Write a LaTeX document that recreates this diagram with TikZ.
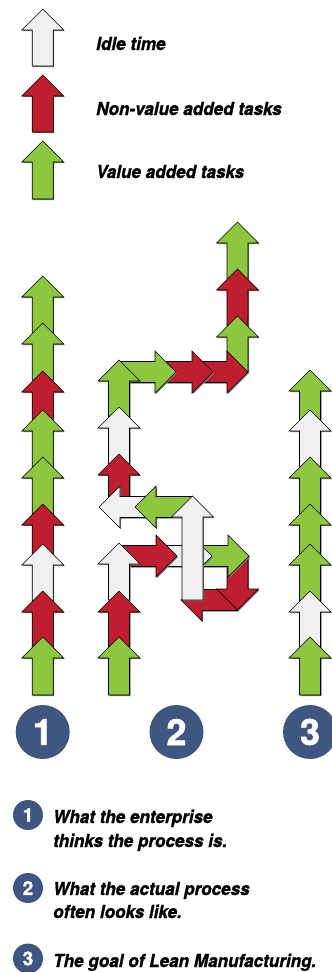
\documentclass[tikz,border=0pt]{standalone}
\usepackage{fontspec}
\newfontfamily\labfont{TeX Gyre Heros}[FakeStretch=0.95,FakeBold=1.2]
\newfontfamily\numfont{TeX Gyre Heros}[FakeBold=1.5]
\definecolor{vgreen}{RGB}{141,198,63}
\definecolor{nred}{RGB}{190,30,45}
\definecolor{idle}{RGB}{240,240,240}
\definecolor{cblue}{RGB}{62,86,128}
\definecolor{shadowc}{RGB}{120,120,120}
\newcommand\Arr[5]{%
  \fill[shadowc, shift={(#2+1,#3+1)}, rotate=#4] (0,0) -- (-21,21) -- (-21,10.5) -- (-#5,10.5) -- (-#5,-10.5) -- (-21,-10.5) -- (-21,-21) -- cycle;
  \filldraw[fill=#1, draw=black, line width=0.6pt, line join=miter, shift={(#2,#3)}, rotate=#4] (0,0) -- (-21,21) -- (-21,10.5) -- (-#5,10.5) -- (-#5,-10.5) -- (-21,-10.5) -- (-21,-21) -- cycle;
}
\tikzset{
  legtext/.style={anchor=base west, inner sep=0pt, font=\labfont\bfseries\itshape\fontsize{18}{24}\selectfont},
  bignum/.style={circle, fill=cblue, text=white, minimum size=54pt, inner sep=0pt, font=\numfont\bfseries\fontsize{36}{36}\selectfont},
  smallnum/.style={circle, fill=cblue, text=white, minimum size=30pt, inner sep=0pt, font=\numfont\bfseries\fontsize{19}{19}\selectfont}
}
\begin{document}
\begin{tikzpicture}[x=1pt,y=-1pt]
\useasboundingbox (0,0) rectangle (332,972);
% legend
\Arr{idle}{42.7}{9}{90}{57}
\Arr{nred}{42.7}{75}{90}{57}
\Arr{vgreen}{42.7}{141}{90}{58}
\node[legtext] (l1) at (96,50) {Idle time};
\node[legtext] (l2) at (96,115) {Non-value added tasks};
\node[legtext] (l3) at (96,178) {Value added tasks};
% column 1
\Arr{vgreen}{42.7}{276}{90}{57}
\Arr{vgreen}{42.7}{323}{90}{57}
\Arr{nred}{42.7}{371}{90}{57}
\Arr{vgreen}{42.7}{410}{90}{57}
\Arr{vgreen}{42.7}{457}{90}{57}
\Arr{nred}{42.7}{504}{90}{57}
\Arr{idle}{42.7}{544}{90}{57}
\Arr{nred}{42.7}{591}{90}{57}
\Arr{vgreen}{42.7}{637}{90}{58}
% column 3
\Arr{vgreen}{310}{370}{90}{57}
\Arr{idle}{310}{410}{90}{57}
\Arr{vgreen}{310}{457}{90}{57}
\Arr{vgreen}{310}{504}{90}{57}
\Arr{vgreen}{310}{544}{90}{57}
\Arr{idle}{310}{591}{90}{57}
\Arr{vgreen}{310}{637}{90}{58}
% column 2
\Arr{vgreen}{237.5}{222}{90}{57}
\Arr{nred}{237.5}{269}{90}{57}
\Arr{vgreen}{237.5}{316}{90}{56}
\Arr{nred}{248}{372}{0}{57}
\Arr{nred}{213}{372}{0}{57}
\Arr{vgreen}{176}{372}{0}{57}
\Arr{vgreen}{119}{360}{90}{57}
\Arr{idle}{119}{407}{90}{57}
\Arr{nred}{119}{454}{90}{57}
\Arr{idle}{99}{507}{180}{57}
\Arr{vgreen}{135}{507}{180}{57}
\Arr{nred}{181}{600}{180}{57}
\Arr{nred}{237.5}{610}{-90}{54}
\Arr{vgreen}{249}{556}{0}{57}
\Arr{idle}{212}{556}{0}{57}
\Arr{nred}{177}{556}{0}{57}
\Arr{idle}{119}{543}{90}{57}
\Arr{nred}{119}{591}{90}{57}
\Arr{vgreen}{119}{637}{90}{58}
\Arr{idle}{192.5}{496}{90}{104}
% big numbers
\node[bignum] (c1) at (42.7,732) {1};
\node[bignum] (c2) at (176.5,732) {2};
\node[bignum] (c3) at (310,732) {3};
% bottom legend
\node[smallnum] (s1) at (28,815) {1};
\node[legtext] (t1a) at (53,823) {What the enterprise};
\node[legtext] (t1b) at (53,847) {thinks the process is.};
\node[smallnum] (s2) at (28,888) {2};
\node[legtext] (t2a) at (53,895) {What the actual process};
\node[legtext] (t2b) at (53,918) {often looks like.};
\node[smallnum] (s3) at (28,958.5) {3};
\node[legtext] (t3) at (53,967) {The goal of Lean Manufacturing.};
\end{tikzpicture}
\end{document}
